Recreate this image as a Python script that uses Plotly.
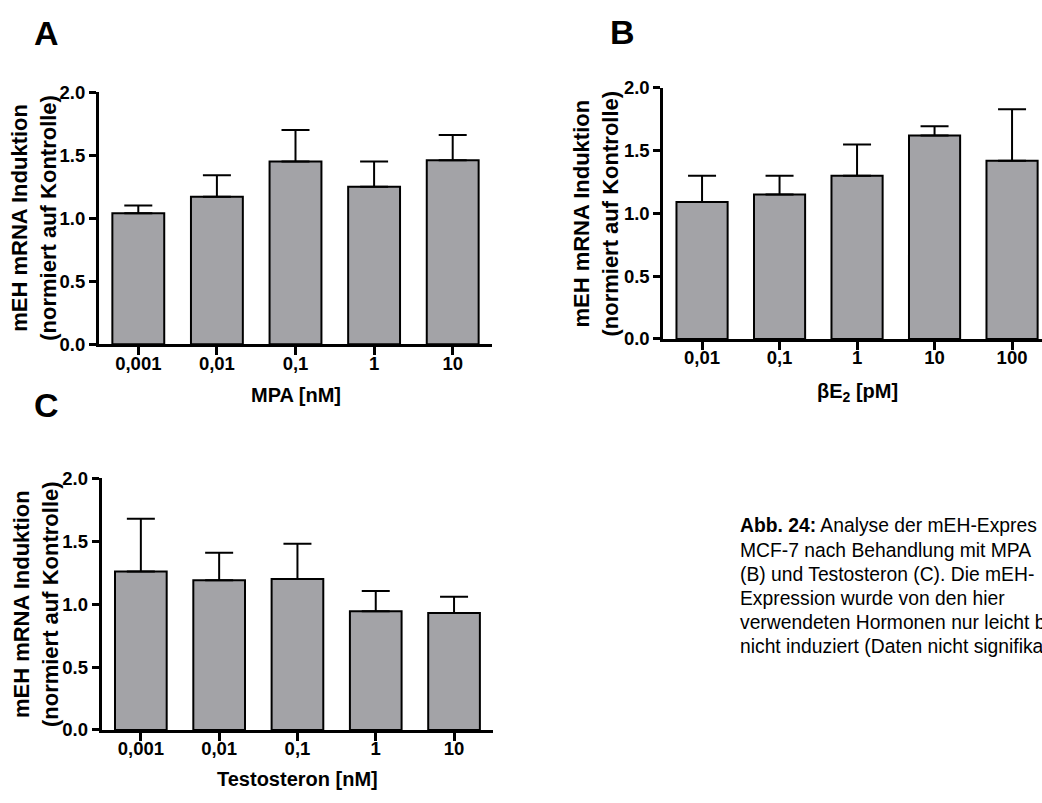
import plotly.graph_objects as go

W, H = 1042, 803

# ---------------- data ----------------
cats_A = ["0,001", "0,01", "0,1", "1", "10"]
vals_A = [1.04, 1.17, 1.45, 1.25, 1.46]
err_A = [0.06, 0.17, 0.25, 0.20, 0.20]

cats_B = ["0,01", "0,1", "1", "10", "100"]
vals_B = [1.09, 1.15, 1.30, 1.62, 1.42]
err_B = [0.21, 0.15, 0.25, 0.075, 0.41]

cats_C = ["0,001", "0,01", "0,1", "1", "10"]
vals_C = [1.26, 1.19, 1.20, 0.945, 0.93]
err_C = [0.42, 0.22, 0.28, 0.16, 0.13]

y_ticks = [0.0, 0.5, 1.0, 1.5, 2.0]
y_title = "mEH mRNA Induktion<br>(normiert auf Kontrolle)"
x_titles = ["MPA [nM]", "βE<sub>2</sub> [pM]", "Testosteron [nM]"]
panel_labels = ["A", "B", "C"]
caption_lines = [
    "<b>Abb. 24:</b> Analyse der mEH-Expres",
    "MCF-7 nach Behandlung mit MPA",
    "(B) und Testosteron (C). Die mEH-",
    "Expression wurde von den hier",
    "verwendeten Hormonen nur leicht b",
    "nicht induziert (Daten nicht signifika",
]

FONT = "Liberation Sans, Arial, Helvetica, sans-serif"
BAR_FILL = "#a3a3a7"


def px_x(p):
    return p / W


def px_y(p):
    return 1 - p / H


# panel geometry in pixels: (left, right, top(2.0), bottom(0.0))
geo = {
    "A": (99, 492, 83.3, 342.3),
    "B": (663.3, 1042, 79, 336.7),
    "C": (101.7, 493, 480, 738.3),
}

fig = go.Figure()

datasets = [("A", cats_A, vals_A, err_A, "x", "y"),
            ("B", cats_B, vals_B, err_B, "x2", "y2"),
            ("C", cats_C, vals_C, err_C, "x3", "y3")]

for name, cats, vals, errs, xa, ya in datasets:
    fig.add_trace(go.Bar(
        x=cats, y=vals, xaxis=xa, yaxis=ya, width=0.66,
        marker=dict(color=BAR_FILL, line=dict(color="black", width=2)),
        error_y=dict(type="data", array=errs, arrayminus=[0] * len(errs),
                     symmetric=False, color="black", thickness=2, width=14),
        showlegend=False, hoverinfo="skip",
    ))

tickfont = dict(family=FONT, size=18.5, color="black", weight="bold")

layout = dict(
    width=W, height=H, autosize=False,
    margin=dict(l=0, r=0, t=0, b=0),
    paper_bgcolor="white", plot_bgcolor="white",
    showlegend=False,
    font=dict(family=FONT, color="black"),
)

axis_ids = [("A", "xaxis", "yaxis", "y", "x"),
            ("B", "xaxis2", "yaxis2", "y2", "x2"),
            ("C", "xaxis3", "yaxis3", "y3", "x3")]

for name, xk, yk, anchor_y, anchor_x in axis_ids:
    l, r, t, b = geo[name]
    cat_w = 78.6 if name == "A" else (77.5 if name == "B" else 78.3)
    xr = [-0.5, -0.5 + (r - l) / cat_w]
    layout[xk] = dict(
        domain=[px_x(l), px_x(r)], anchor=anchor_y, type="category",
        range=xr, showline=True, linecolor="black", linewidth=3,
        ticks="outside", ticklen=8, tickwidth=3, tickcolor="black",
        tickfont=tickfont, showgrid=False, zeroline=False, fixedrange=True,
        ticklabelstandoff=-8,
    )
    layout[yk] = dict(
        domain=[px_y(b), px_y(t)], anchor=anchor_x, range=[0, 2],
        tickvals=y_ticks, tickformat=".1f",
        showline=True, linecolor="black", linewidth=3,
        ticks="outside", ticklen=7, tickwidth=3, tickcolor="black",
        tickfont=tickfont, showgrid=False, zeroline=False, fixedrange=True,
    )

fig.update_layout(**layout)

annotations = []
# y titles
ytitle_pos = {"A": (34.5, 212.8), "B": (596, 208), "C": (36, 609)}
for name in ["A", "B", "C"]:
    xp, yp = ytitle_pos[name]
    annotations.append(dict(
        x=px_x(xp), y=px_y(yp), xref="paper", yref="paper",
        text="<b>" + y_title.replace("<br>", "</b><br><b>") + "</b>",
        textangle=-90, showarrow=False, xanchor="center", yanchor="middle",
        font=dict(family=FONT, size=22, color="black"),
    ))
# x titles
xtitle_pos = [(295.5, 394), (857, 392), (297, 789)]
for txt, (xp, yp) in zip(x_titles, xtitle_pos):
    annotations.append(dict(
        x=px_x(xp), y=px_y(yp), xref="paper", yref="paper",
        text="<b>" + txt + "</b>", showarrow=False,
        xanchor="center", yanchor="middle",
        font=dict(family=FONT, size=20, color="black"),
    ))
# panel labels
label_pos = [(46, 23), (622, 22), (46, 405)]
for txt, (xp, yp) in zip(panel_labels, label_pos):
    annotations.append(dict(
        x=px_x(xp), y=px_y(yp), xref="paper", yref="paper",
        text="<b>" + txt + "</b>", showarrow=False,
        xanchor="center", yanchor="middle",
        font=dict(family=FONT, size=34, color="black"),
    ))
# caption
cap_y = [528, 554, 579, 603, 628, 653]
for txt, yp in zip(caption_lines, cap_y):
    annotations.append(dict(
        x=px_x(738), y=px_y(yp), xref="paper", yref="paper",
        text=txt, showarrow=False, xanchor="left", yanchor="middle",
        align="left", font=dict(family=FONT, size=19.3, color="black"),
    ))

fig.update_layout(annotations=annotations)

fig.write_html("out.html", config={"displayModeBar": False})
